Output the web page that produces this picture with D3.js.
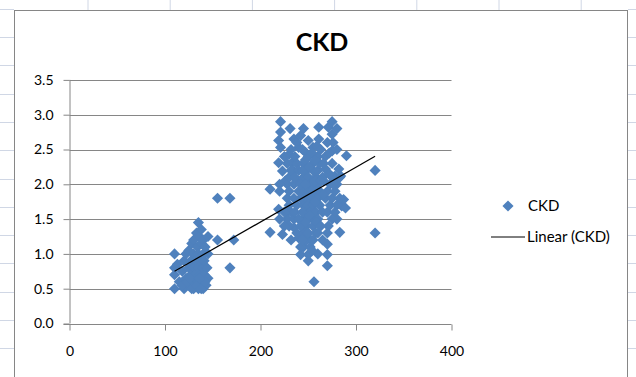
<!DOCTYPE html>
<html>
<head>
<meta charset="utf-8">
<script src="https://cdn.jsdelivr.net/npm/d3@7"></script>
<style>
  body { margin: 0; background: #fff; }
  svg { display: block; font-family: Lato, "Open Sans", sans-serif; }
</style>
</head>
<body>
<svg id="chart" width="636" height="377"></svg>
<script>
// CKD scatter values (x, y)
var xValues = [
    // left cluster
    110, 110, 110, 110, 120, 113, 118, 120, 122, 122, 125, 125, 125, 127, 127, 128,
    130, 130, 130, 130, 130, 132, 132, 133, 134, 135, 135, 135, 135, 135, 136, 137,
    137, 138, 138, 140, 140, 140, 140, 140, 141, 141, 142, 143, 144, 145, 145, 145,
    115, 118, 123, 128, 133, 138, 142, 126, 136,
    155, 155, 168, 168, 172,
    // right cluster, outer points
    221, 275, 231, 245, 261, 271, 221, 219, 235, 250, 261, 275, 221, 240, 230, 275,
    290, 247, 255, 219, 233, 223, 235, 268, 282, 320, 210, 226, 238, 266, 278,
    219, 210, 223, 235, 240, 242, 250, 250, 270, 270, 283, 280, 285, 270, 256, 320,
    271, 252, 284, 289, 287,
    // right cluster, dense middle
    245, 245, 245, 245, 245, 245, 245,
    248, 248, 248, 248, 248, 248,
    250, 250, 250, 250, 250, 250,
    252, 252, 252, 252,
    255, 255, 255, 255, 255, 255, 255, 255,
    258, 258, 258, 258,
    260, 260, 260, 260, 260, 260, 260,
    262, 262, 262,
    265, 265, 265,
    268, 268,
    270, 270, 270, 270,
    273, 273,
    275, 275, 275, 275,
    278, 278, 278,
    280, 280, 280, 280,
    283, 283,
    228, 228, 228, 228,
    230, 230, 230, 230,
    232, 232, 232,
    235, 235, 235,
    238, 238, 238, 238,
    240, 240, 240,
    242, 242, 242, 242, 242,
    225, 225, 225,
    220, 220, 220,
    236, 236, 236,
    244, 244, 244, 244,
    247, 247, 247,
    251, 251, 251,
    254, 254, 254,
    257, 257, 257,
    259, 259,
    263, 263, 263,
    266, 266,
    272, 272,
    276, 276,
    228, 232
];

var yValues = [
    1.0, 0.8, 0.7, 0.5, 0.5, 0.85, 0.75, 0.9, 1.0, 0.65, 0.8, 1.05, 0.55, 0.7, 0.9, 1.15,
    0.5, 0.6, 0.8, 1.0, 1.2, 0.7, 0.9, 1.3, 1.1, 1.45, 0.5, 0.6, 0.8, 1.0, 1.25, 0.7,
    0.9, 1.15, 1.35, 0.5, 0.6, 0.8, 1.0, 1.2, 0.7, 0.9, 1.1, 0.55, 0.8, 1.0, 0.65, 1.25,
    0.6, 0.55, 0.6, 0.5, 0.55, 0.5, 0.6, 0.65, 0.65,
    1.8, 1.2, 1.8, 0.8, 1.2,
    2.9, 2.9, 2.8, 2.8, 2.82, 2.82, 2.75, 2.63, 2.65, 2.63, 2.65, 2.72, 2.53, 2.53, 2.43, 2.48,
    2.41, 2.46, 2.53, 2.31, 2.31, 2.19, 2.19, 2.22, 2.22, 2.2, 1.93, 2.05, 2.05, 2.05, 2.12,
    1.64, 1.31, 1.28, 1.38, 1.23, 0.99, 0.99, 0.9, 0.99, 1.14, 1.31, 1.5, 1.69, 0.83, 0.6, 1.3,
    1.4, 1.21, 2.12, 1.66, 1.78,
    2.3, 2.1, 1.9, 1.7, 1.5, 1.3, 1.1,
    2.2, 2.0, 1.8, 1.6, 1.4, 1.2,
    2.4, 2.1, 1.9, 1.7, 1.5, 1.3,
    2.0, 1.8, 1.6, 1.1,
    2.3, 2.2, 2.0, 1.8, 1.7, 1.5, 1.4, 1.2,
    2.1, 1.9, 1.6, 1.3,
    2.4, 2.2, 2.0, 1.8, 1.5, 1.3, 1.0,
    1.7, 1.9, 2.3,
    2.1, 1.6, 1.2,
    1.8, 2.4,
    1.6, 1.9, 2.6, 1.3,
    2.0, 1.7,
    1.5, 1.8, 2.1, 2.3,
    1.6, 2.0, 1.9,
    2.8, 2.5, 2.0, 1.7,
    2.1, 1.8,
    1.8, 1.5, 1.6, 2.0,
    1.9, 1.4, 1.7, 2.1,
    1.2, 1.6, 2.2,
    1.5, 1.8, 2.0,
    1.7, 1.3, 2.3, 2.6,
    1.9, 1.5, 2.2,
    1.1, 1.4, 1.8, 2.0, 2.7,
    1.6, 1.4, 2.4,
    1.5, 2.0, 1.9,
    2.4, 2.1, 1.6,
    2.5, 2.2, 1.6, 1.2,
    2.0, 2.35, 1.45,
    2.25, 1.85, 1.55,
    2.45, 1.9, 1.05,
    2.35, 2.05, 1.75,
    2.55, 1.45,
    2.05, 2.5, 1.4,
    2.3, 1.85,
    2.15, 2.45,
    2.0, 2.6,
    2.3, 2.5
];

var xTicks = [0, 100, 200, 300, 400];
var yTicks = [0, 0.5, 1, 1.5, 2, 2.5, 3, 3.5];
var seriesName = "CKD";

var svg = d3.select("#chart");
var blue = "#4F81BD";
var gray = "#868686";

// faint spreadsheet cell lines around the chart object
var colLines = d3.range(88, 636, 82.2);
var rowLines = d3.range(8.7, 377, 28.3);
svg.selectAll(".col-line")
    .data(colLines)
    .enter()
    .append("line")
    .attr("x1", function (d) { return d; })
    .attr("x2", function (d) { return d; })
    .attr("y1", 0)
    .attr("y2", 10)
    .attr("stroke", "#d0d7e5");
svg.selectAll(".row-line")
    .data(rowLines)
    .enter()
    .append("line")
    .attr("x1", 0)
    .attr("x2", 14)
    .attr("y1", function (d) { return Math.round(d) + 0.5; })
    .attr("y2", function (d) { return Math.round(d) + 0.5; })
    .attr("stroke", "#d0d7e5");
svg.selectAll(".row-line-r")
    .data(rowLines)
    .enter()
    .append("line")
    .attr("x1", 628)
    .attr("x2", 636)
    .attr("y1", function (d) { return Math.round(d) + 0.5; })
    .attr("y2", function (d) { return Math.round(d) + 0.5; })
    .attr("stroke", "#d0d7e5");

// chart border
svg.append("rect")
    .attr("x", 14.5)
    .attr("y", 10.5)
    .attr("width", 613)
    .attr("height", 420)
    .attr("fill", "#fff")
    .attr("stroke", gray);

// scales
var xScale = d3.scaleLinear().domain([0, 400]).range([69.5, 451.5]);
var yScale = d3.scaleLinear().domain([0, 3.5]).range([323.5, 79.9]);

// gridlines
svg.selectAll(".grid")
    .data(yTicks.slice(1))
    .enter()
    .append("line")
    .attr("x1", xScale(0))
    .attr("x2", xScale(400))
    .attr("y1", function (d) { return Math.round(yScale(d)) + 0.5; })
    .attr("y2", function (d) { return Math.round(yScale(d)) + 0.5; })
    .attr("stroke", gray);

// y axis
var yAxis = d3.axisLeft(yScale)
    .tickValues(yTicks)
    .tickSize(6)
    .tickPadding(10)
    .tickFormat(d3.format(".1f"));
var gy = svg.append("g")
    .attr("transform", "translate(" + xScale(0) + ",0)")
    .call(yAxis);

// x axis
var xAxis = d3.axisBottom(xScale)
    .tickValues(xTicks)
    .tickSize(6)
    .tickPadding(16)
    .tickFormat(d3.format("d"));
var gx = svg.append("g")
    .attr("transform", "translate(0," + (Math.round(yScale(0)) + 0.5) + ")")
    .call(xAxis);

[gx, gy].forEach(function (g) {
    g.select(".domain").attr("stroke", gray);
    g.selectAll(".tick line").attr("stroke", gray);
    g.selectAll(".tick text")
        .attr("fill", "#000")
        .style("font-size", "14px")
        .style("font-family", "Lato, sans-serif");
});
gy.select(".domain").attr("d", "M0.5," + yScale(0) + "V" + yScale(3.5));
gx.select(".domain").attr("d", "M" + (xScale(0) - 6) + ",0H" + xScale(400));

// points as diamonds
var points = xValues.map(function (x, i) { return [x, yValues[i]]; });
var diamond = d3.symbol().type(d3.symbolSquare).size(62);
svg.append("g")
    .selectAll("path")
    .data(points)
    .enter()
    .append("path")
    .attr("d", diamond)
    .attr("transform", function (d) {
        return "translate(" + xScale(d[0]) + "," + yScale(d[1]) + ") rotate(45)";
    })
    .attr("fill", blue);

// linear trendline (least squares)
var mx = d3.mean(xValues);
var my = d3.mean(yValues);
var sxy = d3.sum(xValues, function (x, i) { return (x - mx) * (yValues[i] - my); });
var sxx = d3.sum(xValues, function (x) { return (x - mx) * (x - mx); });
var slope = sxy / sxx;
var intercept = my - slope * mx;
var xr = d3.extent(xValues);
svg.append("line")
    .attr("x1", xScale(xr[0]))
    .attr("y1", yScale(intercept + slope * xr[0]))
    .attr("x2", xScale(xr[1]))
    .attr("y2", yScale(intercept + slope * xr[1]))
    .attr("stroke", "#000")
    .attr("stroke-width", 1.2);

// title
svg.append("text")
    .attr("x", 322)
    .attr("y", 51)
    .attr("text-anchor", "middle")
    .style("font-size", "25px")
    .style("font-weight", "bold")
    .text(seriesName);

// legend
var legend = svg.append("g");
legend.append("path")
    .attr("d", diamond)
    .attr("transform", "translate(508,206) rotate(45)")
    .attr("fill", blue);
legend.append("text")
    .attr("x", 528)
    .attr("y", 206)
    .attr("dy", "0.35em")
    .style("font-size", "15px")
    .text(seriesName);
legend.append("line")
    .attr("x1", 491)
    .attr("x2", 525)
    .attr("y1", 237)
    .attr("y2", 237)
    .attr("stroke", "#000");
legend.append("text")
    .attr("x", 527)
    .attr("y", 237)
    .attr("dy", "0.35em")
    .style("font-size", "15px")
    .text("Linear (" + seriesName + ")");
</script>
</body>
</html>
